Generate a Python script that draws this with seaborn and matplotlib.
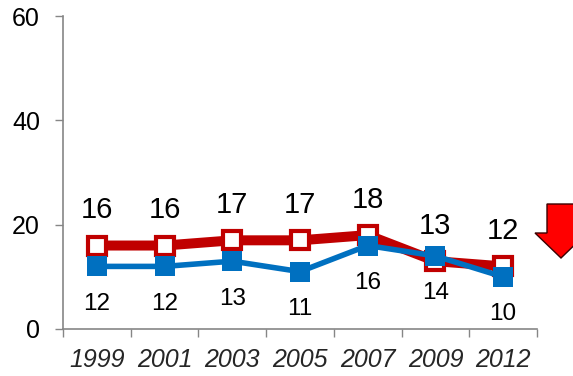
import matplotlib
matplotlib.use("Agg")
import matplotlib.pyplot as plt
import matplotlib.patches as mpatches
from matplotlib.ticker import FixedLocator, NullFormatter
import seaborn as sns
import pandas as pd

years = ["1999", "2001", "2003", "2005", "2007", "2009", "2012"]
series_red = [16, 16, 17, 17, 18, 13, 12]
series_blue = [12, 12, 13, 11, 16, 14, 10]

sns.set_theme(style="white")
plt.rcParams["font.family"] = ["Liberation Sans", "DejaVu Sans"]

fig = plt.figure(figsize=(5.73, 3.76), dpi=100)
ax = fig.add_axes([63 / 573, 1 - 329 / 376, (537 - 63) / 573, (329 - 16) / 376])

df = pd.DataFrame({
    "pos": list(range(len(years))) * 2,
    "value": series_red + series_blue,
    "series": ["red"] * len(years) + ["blue"] * len(years),
})

red_c = "#C00000"
blue_c = "#0070C0"

sns.lineplot(data=df[df.series == "red"], x="pos", y="value", ax=ax,
             color=red_c, linewidth=7.2, marker="s", markersize=13,
             markerfacecolor="white", markeredgecolor=red_c, markeredgewidth=3,
             zorder=2)
sns.lineplot(data=df[df.series == "blue"], x="pos", y="value", ax=ax,
             color=blue_c, linewidth=4, marker="s", markersize=14.5,
             markerfacecolor=blue_c, markeredgecolor=blue_c, markeredgewidth=0,
             zorder=3)

# value labels: red above, blue below
for i, v in enumerate(series_red):
    ax.annotate(str(v), (i, v), xytext=(0, 25.5), textcoords="offset points",
                ha="center", va="center", fontsize=21, color="black")
for i, v in enumerate(series_blue):
    ax.annotate(str(v), (i, v), xytext=(0, -27), textcoords="offset points",
                ha="center", va="center", fontsize=17.5, color="black")

ax.set_xlim(-0.5, len(years) - 0.5)
ax.set_ylim(0, 60)
ax.set_yticks([0, 20, 40, 60])
ax.tick_params(axis="y", labelsize=18, colors="black", length=6, width=1,
               direction="out", left=True, color="#868686", pad=10.5)
ax.xaxis.set_major_locator(FixedLocator([i - 0.5 for i in range(len(years) + 1)]))
ax.xaxis.set_major_formatter(NullFormatter())
ax.xaxis.set_minor_locator(FixedLocator(list(range(len(years)))))
ax.set_xticklabels(years, minor=True, fontsize=18, style="italic")
ax.tick_params(axis="x", which="major", length=6, width=1, direction="out",
               bottom=True, color="#868686")
ax.tick_params(axis="x", which="minor", length=0, pad=14, labelsize=18)
ax.set_xlabel("")
ax.set_ylabel("")
ax.legend_ = None

for side in ("top", "right"):
    ax.spines[side].set_visible(False)
for side in ("left", "bottom"):
    ax.spines[side].set_color("#868686")
    ax.spines[side].set_linewidth(1.2)

# downward trend arrow at the right edge
W, H = 573, 376
pts = [(547, 204), (575, 204), (575, 233), (587, 233), (561, 258), (535, 233), (547, 233)]
arrow = mpatches.Polygon([(x / W, 1 - y / H) for x, y in pts], closed=True,
                         transform=fig.transFigure, facecolor="#FF0000",
                         edgecolor="#3a0000", linewidth=1, clip_on=False)
fig.patches.append(arrow)

fig.savefig("out.png", dpi=100)
